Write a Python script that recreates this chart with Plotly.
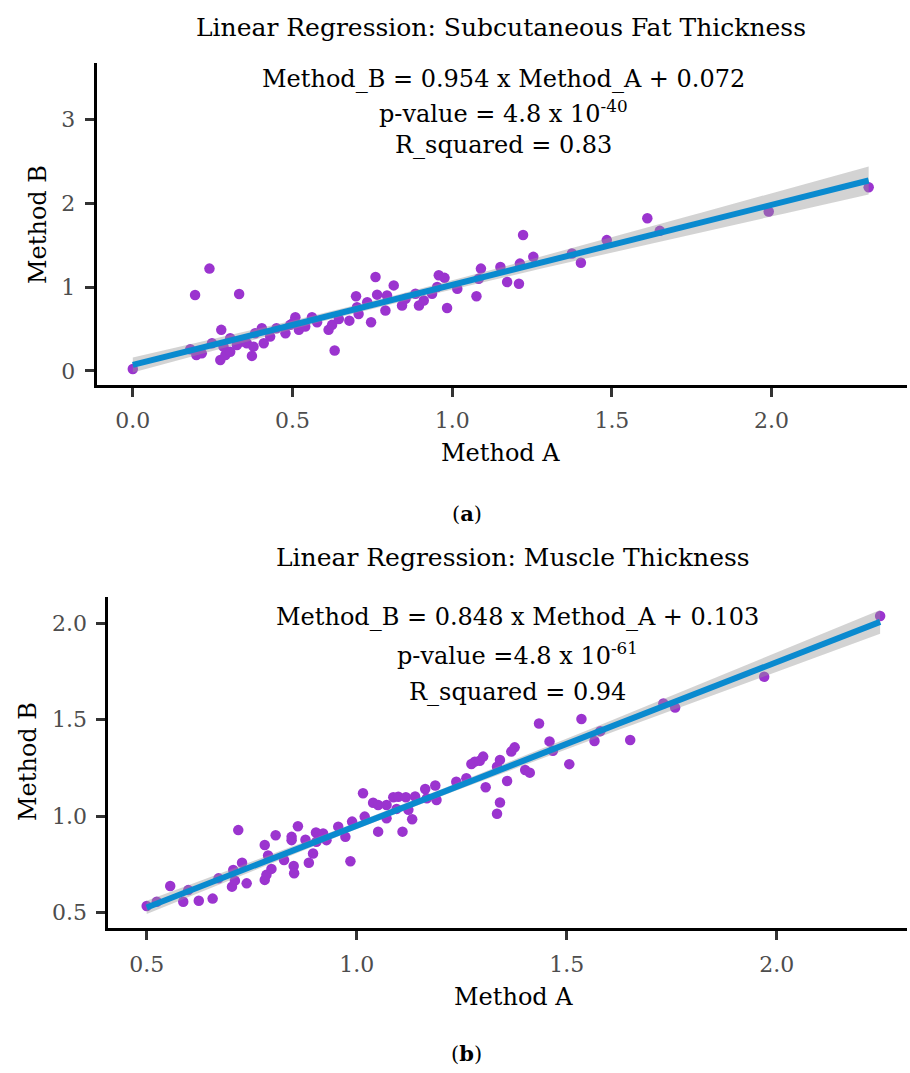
import numpy as np
import plotly.graph_objects as go

# ---------------- data ----------------
# (a) Subcutaneous fat thickness
fat_method_a = [0.000, 0.195, 0.240, 0.333, 0.180, 0.199, 0.216, 0.248, 0.277, 0.274,
                0.290, 0.284, 0.305, 0.305, 0.326, 0.342, 0.357, 0.373, 0.378, 0.383,
                0.404, 0.410, 0.430, 0.450, 0.478, 0.493, 0.509, 0.504, 0.520, 0.540,
                0.561, 0.577, 0.613, 0.624, 0.645, 0.632, 0.678, 0.699, 0.702, 0.707,
                0.734, 0.746, 0.760, 0.765, 0.791, 0.796, 0.817, 0.843, 0.854, 0.885,
                0.896, 0.911, 0.937, 0.953, 0.958, 0.976, 0.984, 1.016, 1.076, 1.083,
                1.090, 1.151, 1.172, 1.209, 1.212, 1.222, 1.254, 1.375, 1.403, 1.484,
                1.611, 1.650, 1.991, 2.304]
fat_method_b = [0.024, 0.905, 1.220, 0.917, 0.260, 0.190, 0.210, 0.330, 0.490, 0.130,
                0.190, 0.290, 0.390, 0.230, 0.310, 0.350, 0.330, 0.180, 0.290, 0.450,
                0.510, 0.330, 0.410, 0.510, 0.450, 0.550, 0.640, 0.580, 0.490, 0.530,
                0.640, 0.580, 0.490, 0.550, 0.620, 0.245, 0.600, 0.890, 0.760, 0.680,
                0.820, 0.580, 1.120, 0.910, 0.720, 0.900, 1.020, 0.780, 0.860, 0.920,
                0.780, 0.840, 0.920, 1.000, 1.140, 1.110, 0.750, 0.980, 0.890, 1.100,
                1.220, 1.240, 1.060, 1.040, 1.280, 1.620, 1.360, 1.400, 1.290, 1.560,
                1.820, 1.670, 1.900, 2.190]
fat_slope, fat_intercept = 0.954, 0.072

# (b) Muscle thickness
mus_method_a = [0.500, 0.524, 0.556, 0.587, 0.599, 0.624, 0.657, 0.671, 0.703, 0.706,
                0.710, 0.718, 0.727, 0.738, 0.781, 0.781, 0.785, 0.789, 0.797, 0.807,
                0.827, 0.845, 0.845, 0.850, 0.851, 0.860, 0.878, 0.886, 0.896, 0.903,
                0.904, 0.920, 0.928, 0.956, 0.973, 0.985, 0.989, 1.019, 1.015, 1.039,
                1.051, 1.051, 1.071, 1.071, 1.087, 1.095, 1.099, 1.109, 1.117, 1.123,
                1.132, 1.139, 1.163, 1.167, 1.187, 1.190, 1.237, 1.261, 1.273, 1.281,
                1.293, 1.301, 1.307, 1.334, 1.341, 1.341, 1.334, 1.358, 1.368, 1.376,
                1.401, 1.412, 1.434, 1.459, 1.467, 1.506, 1.535, 1.566, 1.580, 1.651,
                1.730, 1.758, 1.970, 2.246]
mus_method_b = [0.535, 0.557, 0.638, 0.557, 0.617, 0.562, 0.573, 0.678, 0.635, 0.721,
                0.666, 0.928, 0.759, 0.652, 0.851, 0.670, 0.696, 0.796, 0.727, 0.901,
                0.773, 0.876, 0.893, 0.742, 0.704, 0.948, 0.878, 0.759, 0.807, 0.916,
                0.868, 0.911, 0.876, 0.946, 0.893, 0.767, 0.972, 0.998, 1.119, 1.070,
                0.920, 1.058, 1.058, 0.989, 1.098, 1.038, 1.101, 0.920, 1.098, 1.033,
                0.984, 1.102, 1.141, 1.093, 1.159, 1.084, 1.179, 1.197, 1.271, 1.283,
                1.288, 1.309, 1.150, 1.257, 1.292, 1.071, 1.013, 1.183, 1.335, 1.357,
                1.240, 1.226, 1.481, 1.388, 1.339, 1.270, 1.504, 1.390, 1.441, 1.395,
                1.585, 1.563, 1.723, 2.038]
mus_slope, mus_intercept = 0.848, 0.103

fat_x_ticks = [0.0, 0.5, 1.0, 1.5, 2.0]
fat_x_labels = ["0.0", "0.5", "1.0", "1.5", "2.0"]
fat_y_ticks = [0, 1, 2, 3]
fat_y_labels = ["0", "1", "2", "3"]
mus_x_ticks = [0.5, 1.0, 1.5, 2.0]
mus_x_labels = ["0.5", "1.0", "1.5", "2.0"]
mus_y_ticks = [0.5, 1.0, 1.5, 2.0]
mus_y_labels = ["0.5", "1.0", "1.5", "2.0"]

# ---------------- styling ----------------
FONT = "DejaVu Serif"
POINT_COLOR = "#9B34CF"
LINE_COLOR = "#0A8ACF"
BAND_COLOR = "rgba(150,150,150,0.42)"


def fit_band(a, b, slope, intercept, t=1.99):
    a = np.asarray(a, float)
    b = np.asarray(b, float)
    xs = np.linspace(a.min(), a.max(), 80)
    fit = slope * xs + intercept
    resid = b - (slope * a + intercept)
    n = len(a)
    s = np.sqrt(np.sum(resid ** 2) / (n - 2))
    xbar = a.mean()
    sxx = np.sum((a - xbar) ** 2)
    se = s * np.sqrt(1.0 / n + (xs - xbar) ** 2 / sxx)
    return xs, fit, fit - t * se, fit + t * se


fig = go.Figure()


def add_panel(a, b, slope, intercept, xa, ya):
    fig.add_trace(go.Scatter(x=a, y=b, mode="markers", xaxis=xa, yaxis=ya,
                             marker=dict(color=POINT_COLOR, size=10.5, line=dict(width=0)),
                             hoverinfo="skip"))
    xs, fit, lo, hi = fit_band(a, b, slope, intercept)
    fig.add_trace(go.Scatter(x=xs, y=lo, mode="lines", line=dict(width=0),
                             xaxis=xa, yaxis=ya, hoverinfo="skip"))
    fig.add_trace(go.Scatter(x=xs, y=hi, mode="lines", line=dict(width=0),
                             fill="tonexty", fillcolor=BAND_COLOR,
                             xaxis=xa, yaxis=ya, hoverinfo="skip"))
    fig.add_trace(go.Scatter(x=xs, y=fit, mode="lines",
                             line=dict(color=LINE_COLOR, width=6),
                             xaxis=xa, yaxis=ya, hoverinfo="skip"))


add_panel(fat_method_a, fat_method_b, fat_slope, fat_intercept, "x", "y")
add_panel(mus_method_a, mus_method_b, mus_slope, mus_intercept, "x2", "y2")

H = 1073.0
W = 910.0


def axis_style(**kw):
    d = dict(showline=True, linecolor="black", linewidth=3, ticks="outside",
             ticklen=9, tickwidth=3, tickcolor="#333333", showgrid=False,
             zeroline=False, tickfont=dict(family=FONT, size=22, color="#4D4D4D"),
             ticklabelstandoff=5)
    d.update(kw)
    return d


fig.update_layout(
    width=910, height=1073,
    margin=dict(l=0, r=0, t=0, b=0),
    paper_bgcolor="white", plot_bgcolor="white",
    showlegend=False,
    font=dict(family=FONT, color="black"),
    xaxis=axis_style(domain=[96.7 / W, 907 / W], range=[-0.113, 2.424], anchor="y",
                     tickvals=fat_x_ticks, ticktext=fat_x_labels),
    yaxis=axis_style(domain=[1 - 385 / H, 1 - 63.3 / H], range=[-0.167, 3.667], anchor="x",
                     tickvals=fat_y_ticks, ticktext=fat_y_labels),
    xaxis2=axis_style(domain=[108.3 / W, 907 / W], range=[0.4086, 2.31], anchor="y2",
                      tickvals=mus_x_ticks, ticktext=mus_x_labels),
    yaxis2=axis_style(domain=[1 - 928.3 / H, 1 - 596.7 / H], range=[0.419, 2.138], anchor="x2",
                      tickvals=mus_y_ticks, ticktext=mus_y_labels),
)


def txt(x, y, text, size, angle=0):
    fig.add_annotation(x=x / W, y=1 - y / H, xref="paper", yref="paper",
                       text=text, showarrow=False, textangle=angle,
                       xanchor="center", yanchor="middle",
                       font=dict(family=FONT, size=size, color="black"))


# titles
txt(501, 27, "Linear Regression: Subcutaneous Fat Thickness", 25)
txt(513, 557, "Linear Regression: Muscle Thickness", 25)
# equations
txt(503, 79, "Method_B = 0.954 x Method_A + 0.072", 24)
txt(503, 112, "p-value = 4.8 x 10<sup>-40</sup>", 24)
txt(503, 145, "R_squared = 0.83", 24)
txt(517, 617, "Method_B = 0.848 x Method_A + 0.103", 24)
txt(517, 654, "p-value =4.8 x 10<sup>-61</sup>", 24)
txt(517, 692, "R_squared = 0.94", 24)
# axis titles
txt(500, 453, "Method A", 24)
txt(38, 225, "Method B", 24, angle=-90)
txt(513, 997, "Method A", 24)
txt(28, 762, "Method B", 24, angle=-90)
# panel labels
txt(467, 513, "(<b>a</b>)", 21)
txt(467, 1053, "(<b>b</b>)", 21)

fig.write_html("out.html", config={"displayModeBar": False},
               post_script="document.body.style.margin='0px';")
